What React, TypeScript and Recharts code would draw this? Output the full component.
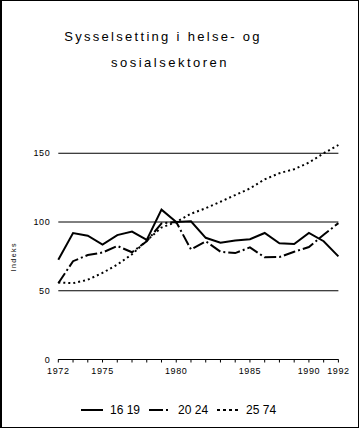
import { LineChart, Line, XAxis, YAxis, CartesianGrid, Legend } from "recharts";

// Years on the category axis (the source skips one year between 1987 and 1990)
const years = [
	"1972", "1973", "1974", "1975", "1976", "1977", "1978", "1979", "1980", "1981",
	"1982", "1983", "1984", "1985", "1986", "1987", "1989", "1990", "1991", "1992",
];
const labeledYears = ["1972", "1975", "1980", "1985", "1990", "1992"];
const yTicks = [0, 50, 100, 150];

// Index values, 1980 = 100
const age16to19 = [72.5, 92, 90, 83.5, 90.5, 93, 87, 109, 100, 100.5, 88.5, 85, 86.5, 87.5, 92, 84.5, 84, 92, 86, 75];
const age20to24 = [55.5, 71.5, 76, 77.8, 82.6, 78, 86, 99, 100, 80, 86, 78.4, 77.4, 81.5, 74.3, 74.5, 78.4, 81.8, 90.7, 99.2];
const age25to74 = [56, 55.5, 58, 63, 69, 76.5, 86.5, 96, 100, 106, 110, 114.7, 119.6, 124.4, 131, 135.5, 138.4, 143.2, 150, 156];

const font = '"Liberation Sans", Arial, sans-serif';

const series = [
	{ key: "a", name: "16 19", dash: undefined as string | undefined, legendDash: undefined as string | undefined },
	{ key: "b", name: "20 24", dash: "12 3 2 3", legendDash: "14 3 2 10" },
	{ key: "c", name: "25 74", dash: "2 3", legendDash: "3 3" },
];

const data = years.map((year, i) => ({
	year,
	a: age16to19[i],
	b: age20to24[i],
	c: age25to74[i],
}));

// Legend drawn below the plot, line sample + label per series
const LegendContent = () => (
	<div
		style={{
			display: "flex",
			alignItems: "center",
			paddingLeft: 81,
			fontFamily: font,
			fontSize: 12,
			color: "#000",
			height: 20,
		}}
	>
		{series.map((s) => (
			<div key={s.key} style={{ display: "flex", alignItems: "center", marginRight: 9 }}>
				<svg width={22} height={6} style={{ marginRight: 7 }}>
					<line x1={0} y1={3} x2={22} y2={3} stroke="#000" strokeWidth={2} strokeDasharray={s.legendDash} />
				</svg>
				<span>{s.name}</span>
			</div>
		))}
	</div>
);

export default function App() {
	return (
		<div style={{ position: "absolute", left: 0, top: 0, width: 360, height: 428, background: "#fff" }}>
			<LineChart
				width={360}
				height={428}
				data={data}
				margin={{ top: 139.5, right: 21.6, left: 8.3, bottom: 38.5 }}
			>
				{/* grid lines only at the labelled y ticks */}
				<CartesianGrid vertical={false} stroke="#000" strokeWidth={1} syncWithTicks />
				<XAxis
					dataKey="year"
					interval={0}
					tickFormatter={(v: string) => (labeledYears.includes(v) ? v : "")}
					tick={{ fontSize: 9, fill: "#000", fontFamily: font, letterSpacing: 0.6 }}
					axisLine={{ stroke: "#000" }}
					tickLine={{ stroke: "#000" }}
					tickSize={3}
					tickMargin={5}
				/>
				<YAxis
					type="number"
					domain={[0, 160]}
					ticks={yTicks}
					width={50}
					axisLine={false}
					tickLine={false}
					tickSize={0}
					tickMargin={8}
					tick={{ fontSize: 9, fill: "#000", fontFamily: font, letterSpacing: 0.6 }}
				/>
				<Legend
					verticalAlign="middle"
					layout="horizontal"
					align="center"
					content={<LegendContent />}
					wrapperStyle={{ position: "absolute", left: 0, top: 400, width: 360 }}
				/>
				{series.map((s) => (
					<Line
						key={s.key}
						dataKey={s.key}
						name={s.name}
						type="linear"
						stroke="#000"
						strokeWidth={2}
						strokeDasharray={s.dash}
						dot={false}
						isAnimationActive={false}
					/>
				))}
			</LineChart>
			<svg
				width={360}
				height={428}
				style={{ position: "absolute", left: 0, top: 0, pointerEvents: "none" }}
			>
				<text x={163} y={40.7} textAnchor="middle" fontFamily={font} fontSize={13} letterSpacing={2.3} fill="#000">
					Sysselsetting i helse- og
				</text>
				<text x={170} y={66.7} textAnchor="middle" fontFamily={font} fontSize={13} letterSpacing={2.5} fill="#000">
					sosialsektoren
				</text>
				<text
					x={0}
					y={0}
					transform="translate(15.5 256.7) rotate(-90)"
					textAnchor="middle"
					fontFamily={font}
					fontSize={7}
					letterSpacing={1.5}
					fill="#000"
				>
					Indeks
				</text>
			</svg>
			<div
				style={{
					position: "absolute",
					left: 0,
					top: 0,
					width: 359,
					height: 428,
					boxSizing: "border-box",
					border: "1px solid #000",
					borderLeftWidth: 2,
					pointerEvents: "none",
				}}
			/>
		</div>
	);
}
